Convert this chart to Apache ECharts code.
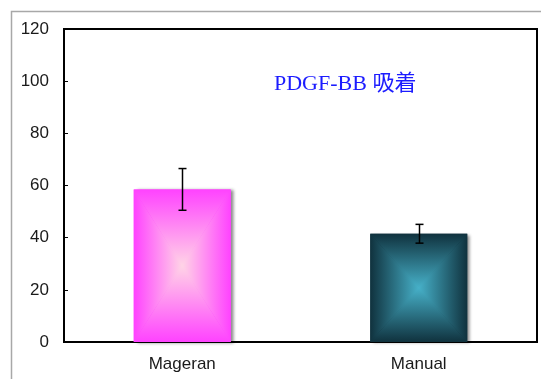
<!DOCTYPE html>
<html>
<head>
<meta charset="utf-8">
<script src="https://cdn.jsdelivr.net/npm/echarts@6/dist/echarts.min.js"></script>
<style>
    html, body {margin: 0; padding: 0; background: #fff;}
    #chart {width: 541px; height: 379px;}
</style>
</head>
<body>
<div id="chart"></div>
<script>
// values
var categories = ['Mageran', 'Manual'];
var values = [58.5, 41.5];
var errors = [8, 3.6];
var yTicks = [0, 20, 40, 60, 80, 100, 120];
var titleText = 'PDGF-BB 吸着';

// edge / center colours of the rectangle gradient for each bar
var barColors = [
    {edge: '#ff42ff', center: '#ffd4e6'},
    {edge: '#10323e', center: '#46b0c8'}
];

var barData = categories.map(function (c, i) {
    return [i, values[i], errors[i]];
});

function renderBar(params, api) {
    var idx = api.value(0);
    var top = api.coord([idx, api.value(1)]);
    var base = api.coord([idx, 0]);
    var bw = api.size([1, 0])[0] * 0.41;
    var x0 = top[0] - bw / 2, x1 = top[0] + bw / 2;
    var y0 = top[1], y1 = base[1];
    var cx = top[0], cy = (y0 + y1) / 2;
    var c = barColors[idx];

    function grad(ax, ay, bx, by) {
        return {
            type: 'linear', x: ax, y: ay, x2: bx, y2: by, global: true,
            colorStops: [{offset: 0, color: c.edge}, {offset: 1, color: c.center}]
        };
    }
    function tri(pts, g) {
        return {type: 'polygon', shape: {points: pts}, style: {fill: g}};
    }

    return {
        type: 'group',
        children: [
            {
                // shadow + a soft base so the triangle seams do not show white
                type: 'rect',
                shape: {x: x0, y: y0, width: bw, height: y1 - y0},
                style: {
                    fill: {
                        type: 'radial', x: 0.5, y: 0.5, r: 0.6,
                        colorStops: [{offset: 0, color: c.center}, {offset: 1, color: c.edge}]
                    },
                    shadowColor: 'rgba(0,0,0,0.45)', shadowBlur: 3, shadowOffsetX: 3, shadowOffsetY: 1
                }
            },
            tri([[x0, y0], [x1, y0], [cx, cy]], grad(cx, y0, cx, cy)),
            tri([[x0, y1], [x1, y1], [cx, cy]], grad(cx, y1, cx, cy)),
            tri([[x0, y0], [x0, y1], [cx, cy]], grad(x0, cy, cx, cy)),
            tri([[x1, y0], [x1, y1], [cx, cy]], grad(x1, cy, cx, cy))
        ]
    };
}

function renderError(params, api) {
    var idx = api.value(0);
    var v = api.value(1), e = api.value(2);
    var hi = api.coord([idx, v + e]);
    var lo = api.coord([idx, v - e]);
    var x = Math.round(hi[0]) + 0.5;
    var cap = 4;
    var st = {stroke: '#000', lineWidth: 1.5};
    return {
        type: 'group',
        children: [
            {type: 'line', shape: {x1: x, y1: hi[1], x2: x, y2: lo[1]}, style: st},
            {type: 'line', shape: {x1: x - cap, y1: hi[1], x2: x + cap, y2: hi[1]}, style: st},
            {type: 'line', shape: {x1: x - cap, y1: lo[1], x2: x + cap, y2: lo[1]}, style: st}
        ]
    };
}

var myChart = echarts.init(document.getElementById('chart'));

var option = {
    animation: false,
    backgroundColor: '#fff',
    grid: {
        left: 64,
        right: 4,
        top: 29,
        bottom: 37,
        show: true,
        borderColor: '#000',
        borderWidth: 2,
        backgroundColor: '#fff'
    },
    graphic: [
        {
            type: 'rect',
            z: -10,
            shape: {x: 11.5, y: 11.5, width: 600, height: 400},
            style: {fill: 'none', stroke: '#a8a8a8', lineWidth: 1.5}
        },
        {
            type: 'text',
            z: 100,
            x: 274,
            y: 84,
            style: {
                text: titleText,
                fill: '#1c1cff',
                fontSize: 22,
                fontFamily: '"Liberation Serif", "Noto Sans CJK JP", serif',
                verticalAlign: 'middle'
            }
        }
    ],
    xAxis: {
        type: 'category',
        data: categories,
        axisLine: {lineStyle: {color: '#000', width: 2}},
        axisTick: {show: false},
        axisLabel: {
            color: '#1a1a1a',
            fontSize: 17,
            fontFamily: '"Liberation Sans", Arial, sans-serif',
            margin: 14
        },
        splitLine: {show: false}
    },
    yAxis: {
        type: 'value',
        min: yTicks[0],
        max: yTicks[yTicks.length - 1],
        interval: 20,
        axisLine: {show: true, lineStyle: {color: '#000', width: 2}},
        axisTick: {show: true, inside: true, length: 4, lineStyle: {color: '#000', width: 1}},
        axisLabel: {
            color: '#1a1a1a',
            fontSize: 17,
            fontFamily: '"Liberation Sans", Arial, sans-serif',
            margin: 15
        },
        splitLine: {show: false}
    },
    series: [
        {
            type: 'custom',
            name: 'bars',
            renderItem: renderBar,
            data: barData,
            encode: {x: 0, y: 1}
        },
        {
            type: 'custom',
            name: 'errors',
            renderItem: renderError,
            data: barData,
            encode: {x: 0, y: [1]},
            z: 5
        }
    ]
};

if (option && typeof option === "object") {
    myChart.setOption(option, true);
}
</script>
</body>
</html>
